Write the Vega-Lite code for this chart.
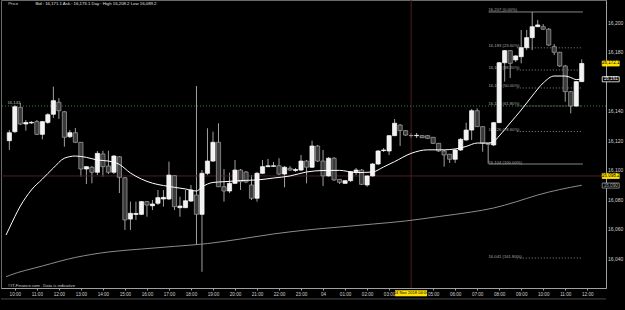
{
  "$schema": "https://vega.github.io/schema/vega-lite/v6.json",
  "width": 605,
  "height": 288,
  "autosize": {"type": "none"},
  "padding": {"left": 1, "top": 0, "right": 19, "bottom": 22},
  "background": "#000000",
  "config": {
    "view": {"stroke": "#6a6a6a", "strokeWidth": 1},
    "font": "Liberation Sans",
    "axis": {"grid": false, "domainColor": "#a0a0a0", "tickColor": "#a0a0a0", "labelColor": "#d0d0d0", "labelFont": "Liberation Sans"}
  },
  "resolve": {"axis": {"x": "independent", "y": "independent"}},
  "datasets": {
    "candles": [
      {"t":"2018-11-03T09:45:00Z","o":16119.8,"h":16127.0,"l":16113.5,"c":16125.2},
      {"t":"2018-11-03T10:00:00Z","o":16125.9,"h":16144.0,"l":16125.0,"c":16142.8},
      {"t":"2018-11-03T10:15:00Z","o":16142.4,"h":16145.3,"l":16130.4,"c":16131.1},
      {"t":"2018-11-03T10:30:00Z","o":16131.1,"h":16133.8,"l":16126.6,"c":16132.1},
      {"t":"2018-11-03T10:45:00Z","o":16131.8,"h":16133.1,"l":16131.1,"c":16132.2},
      {"t":"2018-11-03T11:00:00Z","o":16132.7,"h":16133.8,"l":16123.6,"c":16124.1},
      {"t":"2018-11-03T11:15:00Z","o":16124.1,"h":16133.1,"l":16120.7,"c":16132.7},
      {"t":"2018-11-03T11:30:00Z","o":16132.2,"h":16138.5,"l":16131.1,"c":16137.4},
      {"t":"2018-11-03T11:45:00Z","o":16137.7,"h":16156.4,"l":16135.2,"c":16146.9},
      {"t":"2018-11-03T12:00:00Z","o":16145.8,"h":16148.7,"l":16134.5,"c":16140.1},
      {"t":"2018-11-03T12:15:00Z","o":16139.4,"h":16139.9,"l":16115.7,"c":16122.1},
      {"t":"2018-11-03T12:30:00Z","o":16122.5,"h":16127.0,"l":16121.6,"c":16125.2},
      {"t":"2018-11-03T12:45:00Z","o":16125.2,"h":16128.4,"l":16118.2,"c":16118.7},
      {"t":"2018-11-03T13:00:00Z","o":16118.7,"h":16118.9,"l":16095.4,"c":16100.6},
      {"t":"2018-11-03T13:15:00Z","o":16100.6,"h":16102.6,"l":16090.4,"c":16102.2},
      {"t":"2018-11-03T13:30:00Z","o":16101.8,"h":16102.6,"l":16090.9,"c":16098.4},
      {"t":"2018-11-03T13:45:00Z","o":16098.4,"h":16112.8,"l":16096.5,"c":16111.2},
      {"t":"2018-11-03T14:00:00Z","o":16110.8,"h":16113.0,"l":16095.4,"c":16102.2},
      {"t":"2018-11-03T14:15:00Z","o":16102.6,"h":16113.0,"l":16097.2,"c":16098.4},
      {"t":"2018-11-03T14:30:00Z","o":16098.4,"h":16110.1,"l":16097.2,"c":16109.4},
      {"t":"2018-11-03T14:45:00Z","o":16108.9,"h":16109.4,"l":16084.3,"c":16095.0},
      {"t":"2018-11-03T15:00:00Z","o":16094.7,"h":16095.2,"l":16059.3,"c":16066.1},
      {"t":"2018-11-03T15:15:00Z","o":16066.7,"h":16078.5,"l":16059.3,"c":16070.6},
      {"t":"2018-11-03T15:30:00Z","o":16069.8,"h":16078.5,"l":16066.1,"c":16070.5},
      {"t":"2018-11-03T15:45:00Z","o":16069.9,"h":16078.9,"l":16069.4,"c":16078.5},
      {"t":"2018-11-03T16:00:00Z","o":16078.5,"h":16078.9,"l":16068.3,"c":16076.2},
      {"t":"2018-11-03T16:15:00Z","o":16075.7,"h":16079.6,"l":16072.8,"c":16076.9},
      {"t":"2018-11-03T16:30:00Z","o":16077.4,"h":16086.4,"l":16076.2,"c":16081.2},
      {"t":"2018-11-03T16:45:00Z","o":16080.3,"h":16086.4,"l":16075.1,"c":16081.4},
      {"t":"2018-11-03T17:00:00Z","o":16080.3,"h":16105.6,"l":16079.6,"c":16096.5},
      {"t":"2018-11-03T17:15:00Z","o":16096.1,"h":16096.5,"l":16072.8,"c":16075.1},
      {"t":"2018-11-03T17:30:00Z","o":16074.4,"h":16081.8,"l":16068.3,"c":16075.5},
      {"t":"2018-11-03T17:45:00Z","o":16074.4,"h":16086.4,"l":16074.2,"c":16079.1},
      {"t":"2018-11-03T18:00:00Z","o":16078.9,"h":16089.8,"l":16078.3,"c":16086.4},
      {"t":"2018-11-03T18:15:00Z","o":16083.0,"h":16156.8,"l":16049.1,"c":16069.9},
      {"t":"2018-11-03T18:30:00Z","o":16069.9,"h":16099.9,"l":16031.0,"c":16097.7},
      {"t":"2018-11-03T18:45:00Z","o":16097.7,"h":16128.2,"l":16096.5,"c":16106.0},
      {"t":"2018-11-03T19:00:00Z","o":16106.0,"h":16125.9,"l":16105.4,"c":16118.7},
      {"t":"2018-11-03T19:15:00Z","o":16118.7,"h":16131.6,"l":16088.4,"c":16088.6},
      {"t":"2018-11-03T19:30:00Z","o":16088.6,"h":16100.6,"l":16078.5,"c":16085.7},
      {"t":"2018-11-03T19:45:00Z","o":16085.7,"h":16098.1,"l":16084.3,"c":16090.9},
      {"t":"2018-11-03T20:00:00Z","o":16090.9,"h":16106.7,"l":16090.4,"c":16099.9},
      {"t":"2018-11-03T20:15:00Z","o":16099.9,"h":16100.6,"l":16086.4,"c":16092.0},
      {"t":"2018-11-03T20:30:00Z","o":16098.6,"h":16099.3,"l":16091.1,"c":16091.8},
      {"t":"2018-11-03T20:45:00Z","o":16089.8,"h":16096.5,"l":16079.6,"c":16080.8},
      {"t":"2018-11-03T21:00:00Z","o":16080.8,"h":16098.6,"l":16078.5,"c":16097.7},
      {"t":"2018-11-03T21:15:00Z","o":16097.7,"h":16106.7,"l":16097.2,"c":16102.2},
      {"t":"2018-11-03T21:30:00Z","o":16102.2,"h":16107.4,"l":16102.0,"c":16102.8},
      {"t":"2018-11-03T21:45:00Z","o":16102.4,"h":16105.4,"l":16102.0,"c":16102.8},
      {"t":"2018-11-03T22:00:00Z","o":16102.8,"h":16107.9,"l":16096.5,"c":16097.2},
      {"t":"2018-11-03T22:15:00Z","o":16097.2,"h":16102.6,"l":16088.2,"c":16101.8},
      {"t":"2018-11-03T22:30:00Z","o":16101.1,"h":16102.6,"l":16099.3,"c":16099.9},
      {"t":"2018-11-03T22:45:00Z","o":16099.6,"h":16101.3,"l":16098.6,"c":16100.3},
      {"t":"2018-11-03T23:00:00Z","o":16099.9,"h":16110.1,"l":16099.3,"c":16106.0},
      {"t":"2018-11-03T23:15:00Z","o":16106.0,"h":16106.7,"l":16090.9,"c":16101.8},
      {"t":"2018-11-03T23:30:00Z","o":16101.8,"h":16119.8,"l":16101.3,"c":16116.2},
      {"t":"2018-11-03T23:45:00Z","o":16116.2,"h":16116.9,"l":16105.4,"c":16106.0},
      {"t":"2018-11-04T00:00:00Z","o":16106.0,"h":16113.5,"l":16089.1,"c":16095.9},
      {"t":"2018-11-04T00:15:00Z","o":16095.9,"h":16108.7,"l":16095.2,"c":16107.9},
      {"t":"2018-11-04T00:30:00Z","o":16107.9,"h":16108.7,"l":16092.5,"c":16093.2},
      {"t":"2018-11-04T00:45:00Z","o":16093.6,"h":16093.8,"l":16090.4,"c":16091.6},
      {"t":"2018-11-04T01:00:00Z","o":16090.9,"h":16093.2,"l":16090.4,"c":16092.7},
      {"t":"2018-11-04T01:15:00Z","o":16092.7,"h":16099.3,"l":16091.8,"c":16098.8},
      {"t":"2018-11-04T01:30:00Z","o":16098.8,"h":16101.3,"l":16096.5,"c":16099.9},
      {"t":"2018-11-04T01:45:00Z","o":16099.9,"h":16100.6,"l":16089.8,"c":16090.2},
      {"t":"2018-11-04T02:00:00Z","o":16089.8,"h":16096.5,"l":16088.6,"c":16095.9},
      {"t":"2018-11-04T02:15:00Z","o":16095.9,"h":16104.7,"l":16095.2,"c":16104.0},
      {"t":"2018-11-04T02:30:00Z","o":16104.0,"h":16113.5,"l":16103.3,"c":16112.8},
      {"t":"2018-11-04T02:45:00Z","o":16113.1,"h":16114.8,"l":16112.1,"c":16113.5},
      {"t":"2018-11-04T03:00:00Z","o":16112.8,"h":16123.6,"l":16110.1,"c":16123.2},
      {"t":"2018-11-04T03:15:00Z","o":16123.2,"h":16134.5,"l":16123.0,"c":16131.6},
      {"t":"2018-11-04T03:30:00Z","o":16130.4,"h":16131.1,"l":16116.2,"c":16126.6},
      {"t":"2018-11-04T03:45:00Z","o":16126.6,"h":16127.0,"l":16123.0,"c":16123.6},
      {"t":"2018-11-04T04:00:00Z","o":16123.3,"h":16125.0,"l":16121.6,"c":16123.2},
      {"t":"2018-11-04T04:15:00Z","o":16123.2,"h":16125.0,"l":16121.6,"c":16123.4},
      {"t":"2018-11-04T04:30:00Z","o":16123.2,"h":16123.6,"l":16121.6,"c":16121.8},
      {"t":"2018-11-04T04:45:00Z","o":16123.2,"h":16123.6,"l":16120.9,"c":16121.4},
      {"t":"2018-11-04T05:00:00Z","o":16122.1,"h":16122.3,"l":16117.5,"c":16118.0},
      {"t":"2018-11-04T05:15:00Z","o":16118.0,"h":16118.2,"l":16112.1,"c":16112.8},
      {"t":"2018-11-04T05:30:00Z","o":16112.8,"h":16113.5,"l":16102.2,"c":16110.1},
      {"t":"2018-11-04T05:45:00Z","o":16110.6,"h":16110.8,"l":16104.7,"c":16107.2},
      {"t":"2018-11-04T06:00:00Z","o":16107.2,"h":16114.2,"l":16104.7,"c":16113.5},
      {"t":"2018-11-04T06:15:00Z","o":16113.5,"h":16121.6,"l":16112.8,"c":16120.7},
      {"t":"2018-11-04T06:30:00Z","o":16120.3,"h":16132.0,"l":16119.6,"c":16127.0},
      {"t":"2018-11-04T06:45:00Z","o":16127.0,"h":16141.3,"l":16120.3,"c":16140.1},
      {"t":"2018-11-04T07:00:00Z","o":16140.1,"h":16141.7,"l":16129.1,"c":16129.3},
      {"t":"2018-11-04T07:15:00Z","o":16129.3,"h":16129.7,"l":16112.3,"c":16118.0},
      {"t":"2018-11-04T07:30:00Z","o":16118.0,"h":16118.2,"l":16104.3,"c":16117.3},
      {"t":"2018-11-04T07:45:00Z","o":16116.9,"h":16132.5,"l":16116.2,"c":16132.0},
      {"t":"2018-11-04T08:00:00Z","o":16132.0,"h":16173.1,"l":16131.8,"c":16172.6},
      {"t":"2018-11-04T08:15:00Z","o":16172.6,"h":16181.2,"l":16159.8,"c":16180.8},
      {"t":"2018-11-04T08:30:00Z","o":16180.8,"h":16181.2,"l":16162.3,"c":16172.2},
      {"t":"2018-11-04T08:45:00Z","o":16174.5,"h":16177.8,"l":16173.1,"c":16177.2},
      {"t":"2018-11-04T09:00:00Z","o":16176.7,"h":16194.8,"l":16172.2,"c":16182.8},
      {"t":"2018-11-04T09:15:00Z","o":16182.8,"h":16194.8,"l":16181.2,"c":16189.6},
      {"t":"2018-11-04T09:30:00Z","o":16189.6,"h":16207.0,"l":16181.2,"c":16197.0},
      {"t":"2018-11-04T09:45:00Z","o":16197.0,"h":16201.6,"l":16196.8,"c":16198.2},
      {"t":"2018-11-04T10:00:00Z","o":16197.0,"h":16198.8,"l":16194.8,"c":16195.3},
      {"t":"2018-11-04T10:15:00Z","o":16195.3,"h":16196.1,"l":16183.9,"c":16184.6},
      {"t":"2018-11-04T10:30:00Z","o":16183.5,"h":16185.3,"l":16177.8,"c":16179.7},
      {"t":"2018-11-04T10:45:00Z","o":16179.7,"h":16179.9,"l":16169.7,"c":16170.4},
      {"t":"2018-11-04T11:00:00Z","o":16170.4,"h":16171.1,"l":16146.2,"c":16153.0},
      {"t":"2018-11-04T11:15:00Z","o":16153.0,"h":16153.5,"l":16138.3,"c":16143.3},
      {"t":"2018-11-04T11:30:00Z","o":16143.3,"h":16160.2,"l":16142.6,"c":16159.8},
      {"t":"2018-11-04T11:45:00Z","o":16159.8,"h":16174.9,"l":16159.6,"c":16172.1}
    ],
    "ma": [
      {"t":"2018-11-03T09:36:00Z","v":16055.9},
      {"t":"2018-11-03T09:45:00Z","v":16060.6},
      {"t":"2018-11-03T10:15:00Z","v":16075.5},
      {"t":"2018-11-03T10:45:00Z","v":16086.4},
      {"t":"2018-11-03T11:15:00Z","v":16093.8},
      {"t":"2018-11-03T11:45:00Z","v":16101.3},
      {"t":"2018-11-03T12:15:00Z","v":16107.9},
      {"t":"2018-11-03T12:45:00Z","v":16109.4},
      {"t":"2018-11-03T13:15:00Z","v":16108.5},
      {"t":"2018-11-03T13:45:00Z","v":16106.7},
      {"t":"2018-11-03T14:15:00Z","v":16106.0},
      {"t":"2018-11-03T14:45:00Z","v":16103.7},
      {"t":"2018-11-03T15:15:00Z","v":16097.9},
      {"t":"2018-11-03T15:45:00Z","v":16093.8},
      {"t":"2018-11-03T16:15:00Z","v":16091.0},
      {"t":"2018-11-03T16:45:00Z","v":16089.4},
      {"t":"2018-11-03T17:15:00Z","v":16088.2},
      {"t":"2018-11-03T17:45:00Z","v":16087.1},
      {"t":"2018-11-03T18:15:00Z","v":16085.7},
      {"t":"2018-11-03T18:30:00Z","v":16088.4},
      {"t":"2018-11-03T19:00:00Z","v":16091.5},
      {"t":"2018-11-03T19:30:00Z","v":16092.0},
      {"t":"2018-11-03T20:15:00Z","v":16092.8},
      {"t":"2018-11-03T21:00:00Z","v":16093.2},
      {"t":"2018-11-03T21:45:00Z","v":16094.5},
      {"t":"2018-11-03T22:30:00Z","v":16095.9},
      {"t":"2018-11-03T23:15:00Z","v":16098.6},
      {"t":"2018-11-04T00:00:00Z","v":16099.6},
      {"t":"2018-11-04T00:45:00Z","v":16099.7},
      {"t":"2018-11-04T01:30:00Z","v":16098.2},
      {"t":"2018-11-04T02:15:00Z","v":16098.6},
      {"t":"2018-11-04T02:45:00Z","v":16102.0},
      {"t":"2018-11-04T03:15:00Z","v":16105.6},
      {"t":"2018-11-04T04:00:00Z","v":16111.2},
      {"t":"2018-11-04T04:45:00Z","v":16113.6},
      {"t":"2018-11-04T05:30:00Z","v":16113.6},
      {"t":"2018-11-04T06:00:00Z","v":16114.2},
      {"t":"2018-11-04T06:30:00Z","v":16115.9},
      {"t":"2018-11-04T07:00:00Z","v":16118.2},
      {"t":"2018-11-04T07:30:00Z","v":16118.2},
      {"t":"2018-11-04T07:45:00Z","v":16119.2},
      {"t":"2018-11-04T08:00:00Z","v":16123.0},
      {"t":"2018-11-04T08:30:00Z","v":16131.8},
      {"t":"2018-11-04T09:00:00Z","v":16140.6},
      {"t":"2018-11-04T09:30:00Z","v":16150.1},
      {"t":"2018-11-04T10:00:00Z","v":16158.9},
      {"t":"2018-11-04T10:30:00Z","v":16163.6},
      {"t":"2018-11-04T11:00:00Z","v":16163.6},
      {"t":"2018-11-04T11:15:00Z","v":16162.6},
      {"t":"2018-11-04T11:30:00Z","v":16161.2},
      {"t":"2018-11-04T11:45:00Z","v":16161.6}
    ],
    "ma200": [
      {"t":"2018-11-03T09:36:00Z","v":16027.6},
      {"t":"2018-11-03T09:45:00Z","v":16028.5},
      {"t":"2018-11-03T11:15:00Z","v":16034.9},
      {"t":"2018-11-03T12:45:00Z","v":16040.7},
      {"t":"2018-11-03T14:15:00Z","v":16044.4},
      {"t":"2018-11-03T15:45:00Z","v":16046.4},
      {"t":"2018-11-03T17:15:00Z","v":16048.2},
      {"t":"2018-11-03T18:45:00Z","v":16050.1},
      {"t":"2018-11-03T20:15:00Z","v":16053.2},
      {"t":"2018-11-03T21:45:00Z","v":16056.6},
      {"t":"2018-11-03T23:15:00Z","v":16059.3},
      {"t":"2018-11-04T00:45:00Z","v":16061.3},
      {"t":"2018-11-04T02:15:00Z","v":16063.3},
      {"t":"2018-11-04T03:45:00Z","v":16065.4},
      {"t":"2018-11-04T05:15:00Z","v":16068.4},
      {"t":"2018-11-04T06:45:00Z","v":16071.5},
      {"t":"2018-11-04T07:45:00Z","v":16074.2},
      {"t":"2018-11-04T08:45:00Z","v":16078.3},
      {"t":"2018-11-04T09:45:00Z","v":16083.0},
      {"t":"2018-11-04T10:45:00Z","v":16086.7},
      {"t":"2018-11-04T11:45:00Z","v":16089.6}
    ],
    "fibSolid": [
      {"p":16207.0},
      {"p":16104.0}
    ],
    "fibDotted": [
      {"p":16182.7},
      {"p":16167.7},
      {"p":16155.5},
      {"p":16143.3},
      {"p":16126.0},
      {"p":16040.3}
    ],
    "fibLabels": [
      {"p":16207.0,"label":"16,207 (0.00%)"},
      {"p":16182.7,"label":"16,183 (23.60%)"},
      {"p":16167.7,"label":"16,168 (38.20%)"},
      {"p":16155.5,"label":"16,156 (50.00%)"},
      {"p":16143.3,"label":"16,143 (61.80%)"},
      {"p":16126.0,"label":"16,126 (78.60%)"},
      {"p":16104.0,"label":"16,104 (100.00%)"},
      {"p":16040.3,"label":"16,041 (161.80%)"}
    ],
    "tags": [
      {"p":16172.1,"label":"16,172.1","kind":"last"},
      {"p":16161.4,"label":"16,161","kind":"ma"},
      {"p":16095.9,"label":"16,098.2","kind":"cursor"},
      {"p":16089.4,"label":"16,090","kind":"ma200"}
    ]
  },
  "layer": [
    {
      "data": {"name": "candles"},
      "mark": {"type": "rule", "color": "#a0a0a0", "strokeWidth": 1},
      "encoding": {
        "x": {
          "field": "t", "type": "temporal", "title": null,
          "scale": {"type": "utc", "nice": false, "domain": [
            {"year": 2018, "month": 11, "date": 3, "hours": 9, "minutes": 35, "seconds": 53, "utc": true},
            {"year": 2018, "month": 11, "date": 4, "hours": 12, "minutes": 37, "seconds": 30, "utc": true}
          ]},
          "axis": {
            "orient": "bottom",
            "offset": 0,
            "values": [
              {"year": 2018, "month": 11, "date": 3, "hours": 10, "utc": true},
              {"year": 2018, "month": 11, "date": 3, "hours": 11, "utc": true},
              {"year": 2018, "month": 11, "date": 3, "hours": 12, "utc": true},
              {"year": 2018, "month": 11, "date": 3, "hours": 13, "utc": true},
              {"year": 2018, "month": 11, "date": 3, "hours": 14, "utc": true},
              {"year": 2018, "month": 11, "date": 3, "hours": 15, "utc": true},
              {"year": 2018, "month": 11, "date": 3, "hours": 16, "utc": true},
              {"year": 2018, "month": 11, "date": 3, "hours": 17, "utc": true},
              {"year": 2018, "month": 11, "date": 3, "hours": 18, "utc": true},
              {"year": 2018, "month": 11, "date": 3, "hours": 19, "utc": true},
              {"year": 2018, "month": 11, "date": 3, "hours": 20, "utc": true},
              {"year": 2018, "month": 11, "date": 3, "hours": 21, "utc": true},
              {"year": 2018, "month": 11, "date": 3, "hours": 22, "utc": true},
              {"year": 2018, "month": 11, "date": 3, "hours": 23, "utc": true},
              {"year": 2018, "month": 11, "date": 4, "hours": 0, "utc": true},
              {"year": 2018, "month": 11, "date": 4, "hours": 1, "utc": true},
              {"year": 2018, "month": 11, "date": 4, "hours": 2, "utc": true},
              {"year": 2018, "month": 11, "date": 4, "hours": 3, "utc": true},
              {"year": 2018, "month": 11, "date": 4, "hours": 5, "utc": true},
              {"year": 2018, "month": 11, "date": 4, "hours": 6, "utc": true},
              {"year": 2018, "month": 11, "date": 4, "hours": 7, "utc": true},
              {"year": 2018, "month": 11, "date": 4, "hours": 8, "utc": true},
              {"year": 2018, "month": 11, "date": 4, "hours": 9, "utc": true},
              {"year": 2018, "month": 11, "date": 4, "hours": 10, "utc": true},
              {"year": 2018, "month": 11, "date": 4, "hours": 11, "utc": true},
              {"year": 2018, "month": 11, "date": 4, "hours": 12, "utc": true}
            ],
            "format": "%H:%M",
            "labelExpr": "datum.label == '00:00' ? '04' : datum.label",
            "labelFontSize": 4.6,
            "labelPadding": 1,
            "tickSize": 2,
            "labelOverlap": false,
            "labelFlush": false,
            "labelBound": false
          }
        },
        "y": {
          "field": "l", "type": "quantitative", "title": null,
          "scale": {"domain": [16020, 16215.1], "nice": false, "zero": false},
          "axis": {
            "orient": "right",
            "offset": 0,
            "values": [16040, 16060, 16080, 16100, 16120, 16140, 16180, 16200],
            "format": ",d",
            "labelFontSize": 5,
            "labelPadding": 1.5,
            "tickSize": 0,
            "labelOverlap": false,
            "labelFlush": false,
            "labelBound": false
          }
        },
        "y2": {"field": "h"}
      }
    },
    {
      "data": {"values": [{}]},
      "mark": {"type": "rule", "color": "#4e1e1e", "strokeWidth": 1},
      "encoding": {
        "x": {"datum": {"year": 2018, "month": 11, "date": 4, "hours": 4, "minutes": 0, "utc": true}, "type": "temporal", "axis": null}
      }
    },
    {
      "data": {"values": [{}]},
      "mark": {"type": "rule", "color": "#4e1e1e", "strokeWidth": 1},
      "encoding": {"y": {"datum": 16095.9, "type": "quantitative", "axis": null}}
    },
    {
      "data": {"values": [{}]},
      "mark": {"type": "rule", "color": "#2f8a2f", "strokeWidth": 1, "strokeDash": [1, 2]},
      "encoding": {"y": {"datum": 16143.3, "type": "quantitative", "axis": null}}
    },
    {
      "data": {"name": "ma200"},
      "mark": {"type": "line", "color": "#8c8c8c", "strokeWidth": 1, "interpolate": "monotone"},
      "encoding": {
        "x": {"field": "t", "type": "temporal", "axis": null},
        "y": {"field": "v", "type": "quantitative", "axis": null}
      }
    },
    {
      "data": {"name": "fibSolid"},
      "mark": {"type": "rule", "color": "#a8a8a8", "strokeWidth": 0.8},
      "encoding": {
        "x": {"datum": {"year": 2018, "month": 11, "date": 4, "hours": 7, "minutes": 31, "utc": true}, "type": "temporal", "axis": null},
        "x2": {"datum": {"year": 2018, "month": 11, "date": 4, "hours": 11, "minutes": 48, "utc": true}},
        "y": {"field": "p", "type": "quantitative", "axis": null}
      }
    },
    {
      "data": {"name": "fibDotted"},
      "mark": {"type": "rule", "color": "#a8a8a8", "strokeWidth": 0.8, "strokeDash": [1, 2]},
      "encoding": {
        "x": {"datum": {"year": 2018, "month": 11, "date": 4, "hours": 8, "minutes": 48, "utc": true}, "type": "temporal", "axis": null},
        "x2": {"datum": {"year": 2018, "month": 11, "date": 4, "hours": 11, "minutes": 48, "utc": true}},
        "y": {"field": "p", "type": "quantitative", "axis": null}
      }
    },
    {
      "data": {"name": "fibLabels"},
      "mark": {"type": "text", "color": "#a8a8a8", "fontSize": 4.2, "align": "left", "baseline": "middle", "dy": -1.5},
      "encoding": {
        "x": {"datum": {"year": 2018, "month": 11, "date": 4, "hours": 7, "minutes": 31, "utc": true}, "type": "temporal", "axis": null},
        "y": {"field": "p", "type": "quantitative", "axis": null},
        "text": {"field": "label"}
      }
    },
    {
      "data": {"name": "candles"},
      "mark": {"type": "bar", "width": 4.2, "strokeWidth": 0.7},
      "encoding": {
        "x": {"field": "t", "type": "temporal", "axis": null},
        "y": {"field": "o", "type": "quantitative", "axis": null},
        "y2": {"field": "c"},
        "fill": {"condition": {"test": "datum.c >= datum.o", "value": "#f2f2f2"}, "value": "#3a3a3a"},
        "stroke": {"condition": {"test": "datum.c >= datum.o", "value": "#ffffff"}, "value": "#a6a6a6"}
      }
    },
    {
      "data": {"name": "ma"},
      "mark": {"type": "line", "color": "#ffffff", "strokeWidth": 1, "interpolate": "monotone"},
      "encoding": {
        "x": {"field": "t", "type": "temporal", "axis": null},
        "y": {"field": "v", "type": "quantitative", "axis": null}
      }
    },
    {
      "data": {"values": [{}]},
      "mark": {"type": "text", "text": "16,143", "color": "#bdbdbd", "fontSize": 4.2, "align": "left", "baseline": "middle", "dy": -2.5},
      "encoding": {
        "x": {"datum": {"year": 2018, "month": 11, "date": 3, "hours": 9, "minutes": 40, "utc": true}, "type": "temporal", "axis": null},
        "y": {"datum": 16143.3, "type": "quantitative", "axis": null}
      }
    },
    {
      "data": {"values": [{}]},
      "mark": {"type": "text", "text": "Price", "color": "#d8d8d8", "fontSize": 4.3, "align": "left", "baseline": "middle"},
      "encoding": {
        "x": {"datum": {"year": 2018, "month": 11, "date": 3, "hours": 9, "minutes": 42, "utc": true}, "type": "temporal", "axis": null},
        "y": {"datum": 16212.4, "type": "quantitative", "axis": null}
      }
    },
    {
      "data": {"values": [{}]},
      "mark": {"type": "text", "text": "Bid : 16,171.1  Ask : 16,173.1  Day : High 16,208.2 Low 16,089.2", "color": "#e0e0e0", "fontSize": 4.3, "align": "left", "baseline": "middle"},
      "encoding": {
        "x": {"datum": {"year": 2018, "month": 11, "date": 3, "hours": 10, "minutes": 56, "utc": true}, "type": "temporal", "axis": null},
        "y": {"datum": 16212.4, "type": "quantitative", "axis": null}
      }
    },
    {
      "data": {"values": [{}]},
      "mark": {"type": "text", "text": "©IT-Finance.com . Data is indicative", "color": "#d0d0d0", "fontSize": 4.2, "align": "left", "baseline": "middle"},
      "encoding": {
        "x": {"datum": {"year": 2018, "month": 11, "date": 3, "hours": 9, "minutes": 41, "utc": true}, "type": "temporal", "axis": null},
        "y": {"datum": 16021.6, "type": "quantitative", "axis": null}
      }
    },
    {
      "data": {"values": [{}]},
      "mark": {"type": "rule", "color": "#4a4a4a", "strokeWidth": 1},
      "encoding": {"y": {"datum": 16012.6, "type": "quantitative", "axis": null}}
    },
    {
      "data": {"name": "tags"},
      "mark": {"type": "point", "filled": true, "strokeWidth": 0.8, "opacity": 1, "shape": "M-1,-0.3L1,-0.3L1,0.3L-1,0.3Z", "size": 289},
      "encoding": {
        "x": {"datum": {"year": 2018, "month": 11, "date": 4, "hours": 13, "minutes": 4, "utc": true}, "type": "temporal", "axis": null},
        "y": {"field": "p", "type": "quantitative", "axis": null},
        "fill": {"field": "kind", "type": "nominal", "legend": null, "scale": {"domain": ["last", "ma", "cursor", "ma200"], "range": ["#ffe100", "#000000", "#ffe100", "#000000"]}},
        "stroke": {"field": "kind", "type": "nominal", "legend": null, "scale": {"domain": ["last", "ma", "cursor", "ma200"], "range": ["#ffe100", "#ffffff", "#ffe100", "#9a9a9a"]}}
      }
    },
    {
      "data": {"name": "tags"},
      "mark": {"type": "text", "fontSize": 4.6, "align": "center", "baseline": "middle"},
      "encoding": {
        "x": {"datum": {"year": 2018, "month": 11, "date": 4, "hours": 13, "minutes": 4, "utc": true}, "type": "temporal", "axis": null},
        "y": {"field": "p", "type": "quantitative", "axis": null},
        "text": {"field": "label"},
        "color": {"field": "kind", "type": "nominal", "legend": null, "scale": {"domain": ["last", "ma", "cursor", "ma200"], "range": ["#000000", "#ffffff", "#000000", "#b0b0b0"]}}
      }
    },
    {
      "data": {"values": [{}]},
      "mark": {"type": "point", "filled": true, "opacity": 1, "color": "#ffe100", "shape": "M-1,-0.19L1,-0.19L1,0.19L-1,0.19Z", "size": 1024},
      "encoding": {
        "x": {"datum": {"year": 2018, "month": 11, "date": 4, "hours": 4, "minutes": 0, "utc": true}, "type": "temporal", "axis": null},
        "y": {"datum": 16016.5, "type": "quantitative", "axis": null}
      }
    },
    {
      "data": {"values": [{}]},
      "mark": {"type": "text", "text": "04 Nov 2018 04:00", "color": "#000000", "fontSize": 4.1, "align": "center", "baseline": "middle"},
      "encoding": {
        "x": {"datum": {"year": 2018, "month": 11, "date": 4, "hours": 4, "minutes": 0, "utc": true}, "type": "temporal", "axis": null},
        "y": {"datum": 16016.5, "type": "quantitative", "axis": null}
      }
    }
  ]
}
